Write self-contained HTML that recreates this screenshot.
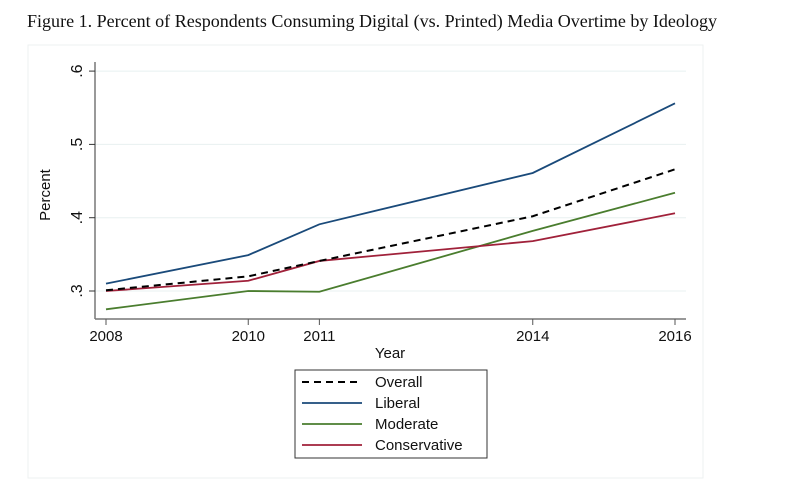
<!DOCTYPE html>
<html><head><meta charset="utf-8"><style>
body{margin:0;background:#fff;width:792px;height:483px;overflow:hidden}
svg{display:block}
text{font-family:"Liberation Sans",sans-serif;fill:#111}
</style></head><body>
<svg id="c" width="792" height="483">
<text x="27" y="27" style="font-family:'Liberation Serif',serif" font-size="18" textLength="690" lengthAdjust="spacingAndGlyphs">Figure 1. Percent of Respondents Consuming Digital (vs. Printed) Media Overtime by Ideology</text>
<rect x="28" y="45" width="675" height="433" fill="none" stroke="#eef1f1"/>
<g id="grid"></g><g id="axes"></g><g id="series"></g>
<g>
<rect x="295" y="370" width="192" height="88" fill="#fff" stroke="#333" stroke-width="1"/>
</g>
<g id="leg"></g>
</svg>
<script>
const years=[2008,2010,2011,2014,2016];
const yTicks=[0.3,0.4,0.5,0.6];
const yTickLabels=[".3",".4",".5",".6"];
const overall=[0.301,0.320,0.341,0.402,0.466];
const liberal=[0.310,0.349,0.391,0.461,0.556];
const moderate=[0.275,0.300,0.299,0.382,0.434];
const conservative=[0.300,0.314,0.341,0.368,0.406];
const seriesNames=["Overall","Liberal","Moderate","Conservative"];
const NS="http://www.w3.org/2000/svg";
const X=v=>106+(v-2008)*(675-106)/8;
const Y=v=>291-(v-0.3)*733;
function mk(p,t,a){const e=document.createElementNS(NS,t);for(const k in a)e.setAttribute(k,a[k]);p.appendChild(e);return e;}
const grid=document.getElementById('grid'),axes=document.getElementById('axes'),ser=document.getElementById('series'),leg=document.getElementById('leg');
yTicks.forEach((t,i)=>{
 const g=mk(grid,'line',{x1:95,x2:686,y1:Y(t),y2:Y(t),stroke:'#e8f0f0','stroke-width':1});
 
 
 const tk=mk(axes,'line',{x1:89,x2:95,y1:Y(t),y2:Y(t),stroke:'#333'});
 
 
 const tx=mk(axes,'text',{x:0,y:0,'font-size':16,'text-anchor':'middle',transform:`translate(82,${Y(t)}) rotate(-90)`});
 tx.textContent=yTickLabels[i];
 
 
});
const ya=mk(axes,'line',{x1:95,x2:95,y1:62,y2:319,stroke:'#333'});


const xa=mk(axes,'line',{x1:95,x2:686,y1:319,y2:319,stroke:'#777','stroke-width':1.5});


years.forEach(y=>{
 const tk=mk(axes,'line',{x1:X(y),x2:X(y),y1:319,y2:325,stroke:'#555'});
 
 
 const tx=mk(axes,'text',{x:X(y),y:341,'font-size':15,'text-anchor':'middle'});
 tx.textContent=y;
 
 
});
const xt=mk(axes,'text',{x:390,y:358,'font-size':15,'text-anchor':'middle'});xt.textContent='Year';


const yt=mk(axes,'text',{x:0,y:0,'font-size':15,'text-anchor':'middle',transform:'translate(50,195) rotate(-90)'});yt.textContent='Percent';


const defs=[[overall,'#000','7,5',2],[liberal,'#1a4a7a','',1.8],[moderate,'#4a7d2e','',1.8],[conservative,'#a0213a','',1.8]];
[1,2,3,0].forEach(i=>{
 const [d,c,da,w]=defs[i];
 const p=mk(ser,'polyline',{points:d.map((v,j)=>X(years[j])+','+Y(v)).join(' '),fill:'none',stroke:c,'stroke-width':w,'stroke-dasharray':da});
 
 
});
defs.forEach((s,i)=>{
 const y=382+i*21;
 const l=mk(leg,'line',{x1:302,x2:362,y1:y,y2:y,stroke:s[1],'stroke-width':s[3],'stroke-dasharray':s[2]});
 
 
 const t=mk(leg,'text',{x:375,y:y+5,'font-size':15});t.textContent=seriesNames[i];
 
 
});
</script>
</body></html>
